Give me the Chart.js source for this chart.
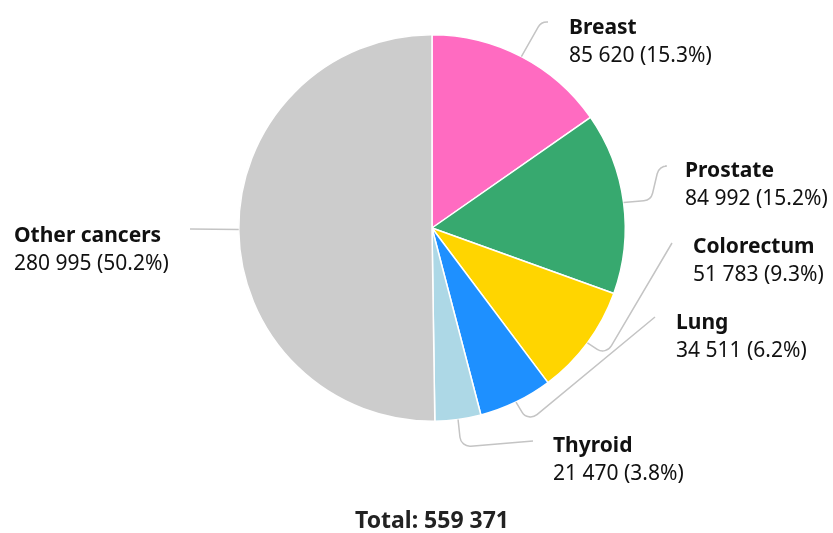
<!DOCTYPE html>
<html>
<head>
<meta charset="utf-8">
<script src="https://cdn.jsdelivr.net/npm/chart.js@4"></script>
<style>
    html, body { margin: 0; padding: 0; background: #ffffff; }
    #wrap { width: 833px; height: 533px; position: relative; }
</style>
</head>
<body>
<div id="wrap"><canvas id="myChart" width="833" height="533"></canvas></div>
<script>
const categories = ['Breast', 'Prostate', 'Colorectum', 'Lung', 'Thyroid', 'Other cancers'];
const cases = [85620, 84992, 51783, 34511, 21470, 280995];
const sliceColors = ['#FF6BC1', '#37A96F', '#FFD500', '#1E90FF', '#ADD8E6', '#CCCCCC'];

// where each label sits and how its leader line bends (canvas px)
const labelLayout = [
    { x: 569, y: 28, bend: [[541, 22], [548, 22]] },
    { x: 685, y: 171, bend: [[651, 200], [659, 166], [665, 166]] },
    { x: 693, y: 247, bend: [[606, 355], [672, 243]] },
    { x: 676, y: 323, bend: [[528, 422], [655, 317]] },
    { x: 553, y: 446, bend: [[461, 447], [533, 441]] },
    { x: 14, y: 236, bend: [[190, 229]] }
];

const total = cases.reduce((a, b) => a + b, 0);
const fmt = n => String(n).replace(/\B(?=(\d{3})+(?!\d))/g, ' ');
const FONT = '"Noto Sans", "Open Sans", sans-serif';

const labelPlugin = {
    id: 'pieLabels',
    afterDatasetsDraw(chart) {
        const ctx = chart.ctx;
        const arcs = chart.getDatasetMeta(0).data;
        ctx.save();
        arcs.forEach((arc, i) => {
            const mid = (arc.startAngle + arc.endAngle) / 2;
            const sx = arc.x + Math.cos(mid) * arc.outerRadius;
            const sy = arc.y + Math.sin(mid) * arc.outerRadius;
            const pts = [[sx, sy], ...labelLayout[i].bend];

            ctx.beginPath();
            ctx.strokeStyle = '#c4c4c4';
            ctx.lineWidth = 1.5;
            ctx.moveTo(pts[0][0], pts[0][1]);
            for (let k = 1; k < pts.length - 1; k++) {
                ctx.arcTo(pts[k][0], pts[k][1], pts[k + 1][0], pts[k + 1][1], 10);
            }
            ctx.lineTo(pts[pts.length - 1][0], pts[pts.length - 1][1]);
            ctx.stroke();

            const lx = labelLayout[i].x, ly = labelLayout[i].y;
            ctx.fillStyle = '#111111';
            ctx.textAlign = 'left';
            ctx.textBaseline = 'middle';
            ctx.font = 'bold 21px ' + FONT;
            ctx.fillText(categories[i], lx, ly);
            ctx.font = '21px ' + FONT;
            const pct = (cases[i] / total * 100).toFixed(1);
            ctx.fillText(fmt(cases[i]) + ' (' + pct + '%)', lx, ly + 28);
        });

        ctx.fillStyle = '#222222';
        ctx.textAlign = 'center';
        ctx.font = 'bold 23px ' + FONT;
        ctx.fillText('Total: ' + fmt(total), 432, 521);
        ctx.restore();
    }
};

new Chart(document.getElementById('myChart').getContext('2d'), {
    type: 'pie',
    data: {
        labels: categories,
        datasets: [{
            data: cases,
            backgroundColor: sliceColors,
            borderColor: '#FFFFFF',
            borderWidth: 1.5
        }]
    },
    options: {
        responsive: false,
        animation: false,
        layout: { padding: { top: 34, bottom: 111, left: 238, right: 207 } },
        plugins: {
            legend: { display: false },
            tooltip: { enabled: false }
        }
    },
    plugins: [labelPlugin]
});
</script>
</body>
</html>
